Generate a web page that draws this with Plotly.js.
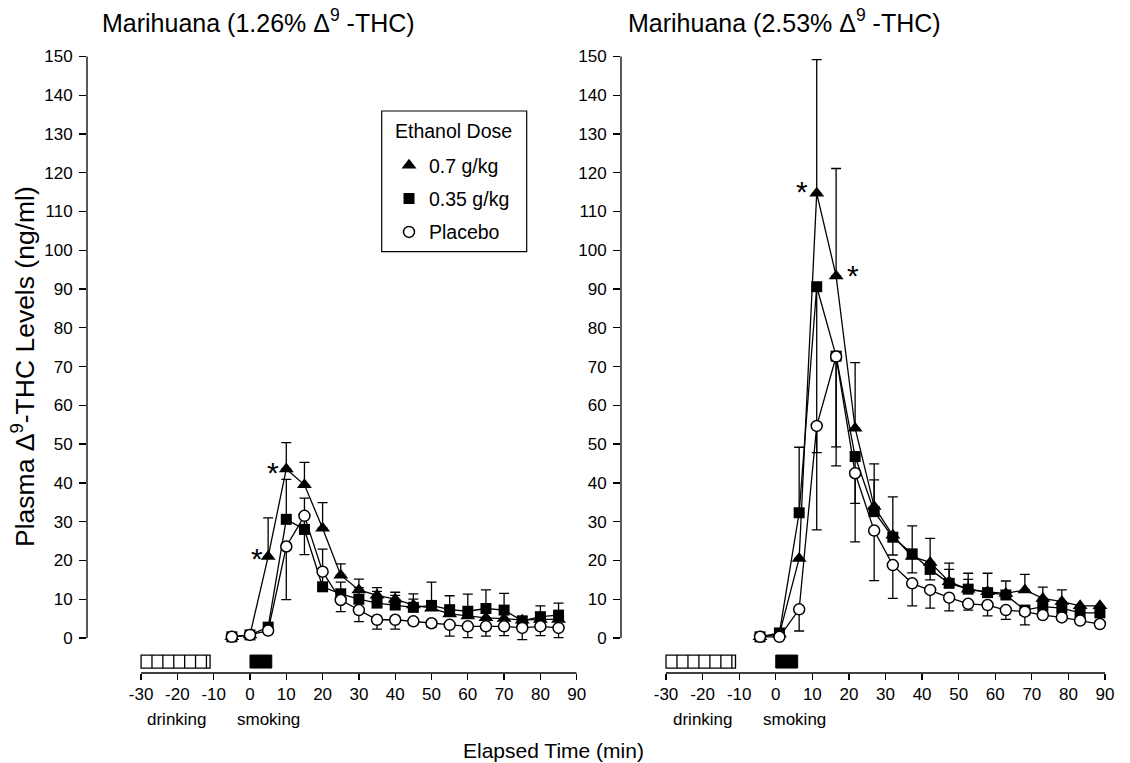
<!DOCTYPE html>
<html><head><meta charset="utf-8">
<script src="https://cdn.plot.ly/plotly-3.0.1.min.js"></script>
<style>html,body{margin:0;padding:0;background:#fff}#chart{width:1130px;height:763px}</style>
</head><body><div id="chart"></div>
<script>
// ---------- data ----------
const timeLeft  = [-5,0,5,10,15,20,25,30,35,40,45,50,55,60,65,70,75,80,85];
// sampling times as they sit on the right panel's drawn axis
const timeRight = [-4.3,1.0,6.4,11.2,16.5,21.7,26.9,32.0,37.3,42.2,47.4,52.6,57.9,62.9,68.1,73.0,78.2,83.2,88.6];
const xTickVals = [-30,-20,-10,0,10,20,30,40,50,60,70,80,90];
const xTickText = ['-30','-20','-10','0','10','20','30','40','50','60','70','80','90'];
const yTickVals = [0,10,20,30,40,50,60,70,80,90,100,110,120,130,140,150];
const seriesNames = ['0.7 g/kg','0.35 g/kg','Placebo'];
const legendTitle = 'Ethanol Dose';
const panelTitles = ['Marihuana (1.26% Δ<sup>9</sup> -THC)','Marihuana (2.53% Δ<sup>9</sup> -THC)'];
const xTitle = 'Elapsed Time (min)';
const yTitle = 'Plasma Δ<sup>9</sup>-THC Levels (ng/ml)';

// left panel: 1.26% THC
const hiL      = [0.3,0.8,21.0,43.6,39.5,28.3,16.2,12.4,11.0,10.0,8.5,7.7,6.2,5.7,5.2,5.0,4.6,4.8,4.8];
const hiLUp    = [0,0,10.0,6.8,5.8,6.6,2.9,2.8,2.0,1.8,1.5,1.2,1.2,1.2,1.2,1.2,1.0,1.0,1.0];
const lowL     = [0.3,0.8,2.8,30.6,28.0,13.2,11.4,10.0,9.0,8.5,7.9,8.4,7.3,6.9,7.6,7.2,4.4,5.5,5.9];
const lowLUp   = [0,0,0,10.3,8.1,9.7,3.0,3.0,3.0,2.5,3.5,6.0,3.6,4.4,4.8,4.3,1.0,2.8,3.1];
const plaL     = [0.3,0.8,1.9,23.6,31.5,17.1,9.8,7.2,4.7,4.7,4.3,3.8,3.4,3.0,3.0,3.0,2.6,3.0,2.6];
const plaLDown = [0,0,0,13.7,10.0,0,3.0,3.0,2.4,2.4,0,1.0,2.9,2.9,2.5,2.4,3.0,2.4,2.5];

// right panel: 2.53% THC
const hiR      = [0.3,1.0,20.5,114.7,93.4,54.1,33.9,26.5,21.0,19.5,14.5,12.6,11.9,11.5,12.4,10.2,9.4,8.3,8.3];
const hiRUp    = [0,0,0,34.5,27.7,16.9,11.0,9.9,0,6.2,4.8,4.1,4.8,0,4.0,2.9,3.0,0,0];
const lowR     = [0.3,1.3,32.3,90.6,72.7,46.8,32.6,26.0,21.7,17.7,14.1,12.6,11.7,11.1,7.2,8.1,7.7,6.5,6.5];
const lowRUp   = [0,0,16.9,0,0,0,8.2,0,7.2,0,3.6,2.5,0,3.6,0,0,0,0,0];
const lowRDown = [0,0,0,42.8,23.4,12.1,0,4.6,4.9,2.7,0,0,0,0,0,0,0,0,0];
const plaR     = [0.3,0.3,7.4,54.7,72.6,42.5,27.7,18.8,14.1,12.4,10.4,8.8,8.5,7.2,6.8,5.9,5.3,4.5,3.6];
const plaRDown = [0,0,5.6,26.8,28.2,17.7,12.9,8.6,5.8,4.7,3.4,1.6,2.8,2.4,3.4,0,0,0,0];

// significance asterisks: [time, level] where each "*" sits
const starsLeft  = [[1.9,21.9],[6.3,44.1]];
const starsRight = [[7.2,116.4],[21.2,94.9]];

// schedule bars (min)
const drinkStart = -30, drinkEnd = -11, drinkDividers = [-27,-24,-21,-18,-15,-12];
const smokeStart = 0, smokeEnd = 6;

(function(){
const FONT = 'Arial, "Liberation Sans", Helvetica, sans-serif';
const BLACK = '#000';
const symbols = [
  {symbol:'triangle-up', size:13, color:BLACK, line:{width:0,color:BLACK}},
  {symbol:'square', size:11, color:BLACK, line:{width:0,color:BLACK}},
  {symbol:'circle', size:11, color:'#fff', line:{width:1.5,color:BLACK}}
];

const traces = [];
function addPanel(t, ys, ups, downs, xa, ya, showLeg){
  ys.forEach((y)=>{
    traces.push({x:t, y:y, xaxis:xa, yaxis:ya, mode:'lines', type:'scatter',
      line:{color:BLACK,width:1.3}, showlegend:false, hoverinfo:'skip', cliponaxis:false});
  });
  ys.forEach((y,i)=>{
    const up = ups[i] || y.map(()=>0);
    const dn = downs[i] || y.map(()=>0);
    traces.push({x:t, y:y, xaxis:xa, yaxis:ya, mode:'markers', type:'scatter',
      name:seriesNames[i], legendgroup:'g'+i, showlegend:showLeg,
      marker:symbols[i], cliponaxis:false,
      error_y:{type:'data', symmetric:false, array:up, arrayminus:dn,
               color:BLACK, thickness:1.3, width:5}});
  });
}
addPanel(timeLeft, [hiL,lowL,plaL], [hiLUp,lowLUp,null], [null,null,plaLDown], 'x','y', true);
addPanel(timeRight,[hiR,lowR,plaR], [hiRUp,lowRUp,null], [null,lowRDown,plaRDown], 'x2','y2', false);

const W=1130, H=763, pTop=50, pBottom=673, pH=pBottom-pTop;
const py = p => (pBottom-p)/pH;   // pixel row -> paper y
const leftDom  = [87/W, 576.7/W];
const rightDom = [621/W, 1105/W];

function xAxis(dom, range, anchor){
  return {domain:dom, range:range, anchor:anchor, tickmode:'array', tickvals:xTickVals, ticktext:xTickText,
    ticks:'outside', ticklen:6, tickwidth:1.3, tickcolor:BLACK, showgrid:false, zeroline:false, showline:false,
    tickfont:{family:FONT,size:17,color:BLACK}, fixedrange:true};
}
function yAxis(anchor){
  return {domain:[0,1], range:[-9.03,151.66], anchor:anchor, tickmode:'array', tickvals:yTickVals,
    ticks:'outside', ticklen:7, tickwidth:1.3, tickcolor:BLACK, showgrid:false, zeroline:false, showline:false,
    ticklabelstandoff:3, tickfont:{family:FONT,size:17,color:BLACK}, fixedrange:true};
}

const shapes = [];
const annotations = [];
[['x','y'],['x2','y2']].forEach(([xa,ya])=>{
  shapes.push({type:'line', xref:xa+' domain', yref:ya, x0:0, x1:0, y0:0, y1:150, line:{color:BLACK,width:1.3}});
  shapes.push({type:'line', xref:xa, yref:ya+' domain', x0:-30, x1:90, y0:0, y1:0, line:{color:BLACK,width:1.3}});
  shapes.push({type:'rect', xref:xa, yref:ya, x0:drinkStart, x1:drinkEnd, y0:-4.4, y1:-7.75, line:{color:BLACK,width:1.3}, fillcolor:'#fff'});
  drinkDividers.forEach(d=>shapes.push({type:'line', xref:xa, yref:ya, x0:d, x1:d, y0:-4.4, y1:-7.75, line:{color:BLACK,width:1.3}}));
  shapes.push({type:'rect', xref:xa, yref:ya, x0:smokeStart, x1:smokeEnd, y0:-4.4, y1:-7.75, line:{color:BLACK,width:1}, fillcolor:BLACK});
  annotations.push({xref:xa, yref:'paper', x:-20, y:py(719), yanchor:'middle', text:'drinking', showarrow:false, font:{family:FONT,size:17,color:BLACK}});
  annotations.push({xref:xa, yref:'paper', x:5, y:py(719), yanchor:'middle', text:'smoking', showarrow:false, font:{family:FONT,size:17,color:BLACK}});
});
// legend frame + heading
shapes.push({type:'rect', xref:'paper', yref:'paper', x0:381.7/W, x1:526.7/W, y0:py(111), y1:py(251.7), line:{color:BLACK,width:1.2}, fillcolor:'rgba(0,0,0,0)'});
annotations.push({xref:'paper',yref:'paper',x:453/W,y:py(131),xanchor:'center',yanchor:'middle',text:legendTitle,showarrow:false,font:{family:FONT,size:19.5,color:BLACK}});

starsLeft.forEach(([t,v])=>annotations.push({xref:'x',yref:'y',x:t,y:v,text:'*',showarrow:false,xanchor:'center',yanchor:'middle',yshift:-5,font:{family:FONT,size:30,color:BLACK}}));
starsRight.forEach(([t,v])=>annotations.push({xref:'x2',yref:'y2',x:t,y:v,text:'*',showarrow:false,xanchor:'center',yanchor:'middle',yshift:-5,font:{family:FONT,size:30,color:BLACK}}));

annotations.push({xref:'paper',yref:'paper',x:100/W,y:py(21),xanchor:'left',yanchor:'middle',text:panelTitles[0],showarrow:false,font:{family:FONT,size:25,color:BLACK}});
annotations.push({xref:'paper',yref:'paper',x:626/W,y:py(21),xanchor:'left',yanchor:'middle',text:panelTitles[1],showarrow:false,font:{family:FONT,size:25,color:BLACK}});
annotations.push({xref:'paper',yref:'paper',x:553/W,y:py(750),xanchor:'center',yanchor:'middle',text:xTitle,showarrow:false,font:{family:FONT,size:21,color:BLACK}});
annotations.push({xref:'paper',yref:'paper',x:23/W,y:py(367),xanchor:'center',yanchor:'middle',textangle:-90,text:yTitle,showarrow:false,font:{family:FONT,size:26.5,color:BLACK}});

const layout = {
  width:W, height:H, margin:{l:0,r:0,t:pTop,b:H-pBottom,pad:0},
  paper_bgcolor:'#fff', plot_bgcolor:'#fff',
  font:{family:FONT,color:BLACK,size:17},
  xaxis: xAxis(leftDom,[-44.9,90],'y'),
  yaxis: yAxis('x'),
  xaxis2: xAxis(rightDom,[-42.3,90],'y2'),
  yaxis2: yAxis('x2'),
  showlegend:true,
  legend:{x:389/W, y:py(146), xanchor:'left', yanchor:'top', bgcolor:'rgba(0,0,0,0)', borderwidth:0,
    traceorder:'grouped', tracegroupgap:5, font:{family:FONT,size:19.5,color:BLACK}},
  shapes:shapes, annotations:annotations
};
Plotly.newPlot('chart', traces, layout, {staticPlot:true, displayModeBar:false});
})();
</script></body></html>
